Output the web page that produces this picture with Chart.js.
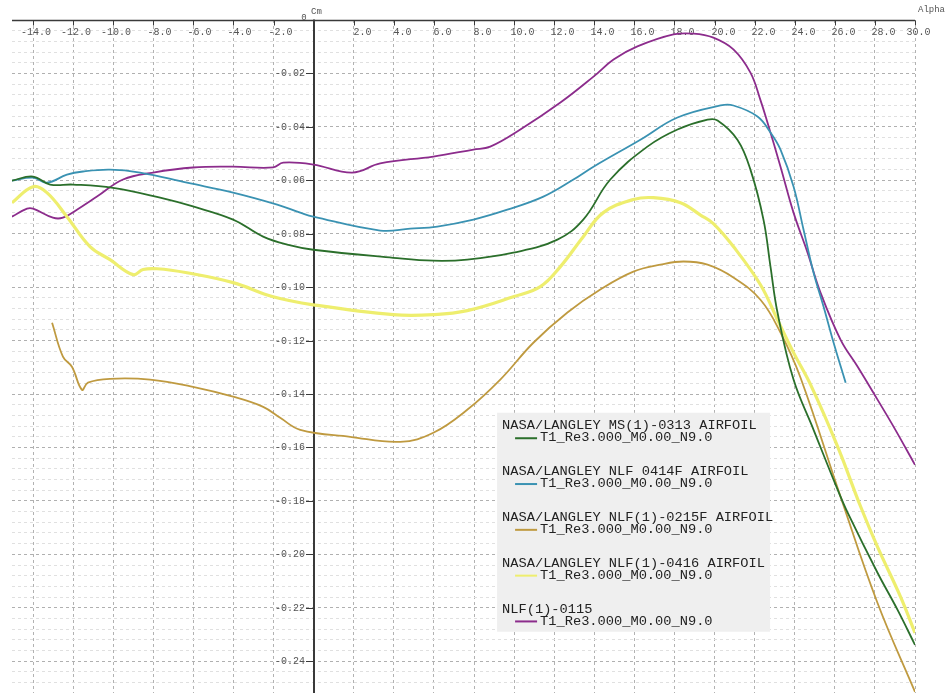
<!DOCTYPE html>
<html><head><meta charset="utf-8">
<script src="https://cdn.jsdelivr.net/npm/chart.js@4.4.0/dist/chart.umd.min.js"></script>
<style>html,body{margin:0;padding:0;background:#fff;overflow:hidden}#wrap{width:947px;height:693px}</style>
</head><body><div id="wrap"><canvas id="c" width="947" height="693"></canvas></div>
<script>
// ---- tick labels / axes ----
const xTickValues = [-14,-12,-10,-8,-6,-4,-2,0,2,4,6,8,10,12,14,16,18,20,22,24,26,28,30];
const yTickValues = [-0.02,-0.04,-0.06,-0.08,-0.10,-0.12,-0.14,-0.16,-0.18,-0.20,-0.22,-0.24];
const xAxisTitle = 'Alpha';
const yAxisTitle = 'Cm';

// ---- series names ----
const seriesTitles = [
  'NASA/LANGLEY MS(1)-0313 AIRFOIL',
  'NASA/LANGLEY NLF 0414F AIRFOIL',
  'NASA/LANGLEY NLF(1)-0215F AIRFOIL',
  'NASA/LANGLEY NLF(1)-0416 AIRFOIL',
  'NLF(1)-0115'
];
const seriesSubtitle = 'T1_Re3.000_M0.00_N9.0';

// ---- MS(1)-0313 (green) ----
const ms0313Alpha = [-15.05,-14.0,-13.15,-12.01,-10.01,-7.66,-6.02,-4.02,-2.52,-1.32,-0.02,3.97,5.97,7.66,9.96,12.16,13.45,14.8,16.65,18.15,19.65,20.15,21.14,21.79,22.44,22.79,23.14,23.94,24.94,26.14,26.64,28.13,29.13,30.0];
const ms0313Cm    = [-0.0601,-0.0586,-0.0616,-0.0616,-0.0628,-0.0665,-0.0698,-0.0747,-0.0811,-0.0841,-0.0860,-0.0890,-0.0901,-0.0897,-0.0871,-0.0822,-0.0747,-0.0597,-0.0474,-0.0410,-0.0373,-0.0376,-0.0448,-0.0560,-0.0747,-0.0923,-0.1095,-0.1346,-0.1534,-0.1758,-0.1844,-0.2069,-0.2208,-0.2339];

// ---- NLF 0414F (blue) ----
const nlf0414Alpha = [-15.05,-14.0,-13.31,-12.31,-11.51,-10.16,-8.66,-6.32,-4.02,-1.82,-0.67,-0.02,3.32,4.82,6.17,7.97,9.66,11.46,12.96,13.96,16.3,18.15,20.3,20.94,22.14,22.79,23.29,23.94,24.44,24.94,25.44,25.94,26.54];
const nlf0414Cm    = [-0.0601,-0.0590,-0.0609,-0.0579,-0.0567,-0.0560,-0.0571,-0.0609,-0.0646,-0.0691,-0.0721,-0.0736,-0.0788,-0.0781,-0.0773,-0.0747,-0.0710,-0.0661,-0.0597,-0.0549,-0.0448,-0.0365,-0.0320,-0.0320,-0.0361,-0.0421,-0.0485,-0.0623,-0.0785,-0.0946,-0.1073,-0.1208,-0.1358];

// ---- NLF(1)-0215F (brown) ----
const nlf0215Alpha = [-13.05,-12.51,-12.06,-11.56,-11.26,-10.16,-8.16,-6.02,-4.02,-2.52,-1.67,-0.67,1.82,4.32,5.97,7.66,9.31,10.96,12.66,14.3,15.95,17.3,18.45,19.65,20.94,22.29,23.29,24.29,26.29,28.13,30.0];
const nlf0215Cm    = [-0.1133,-0.1260,-0.1298,-0.1384,-0.1357,-0.1343,-0.1346,-0.1373,-0.1410,-0.1448,-0.1489,-0.1534,-0.1560,-0.1579,-0.1545,-0.1459,-0.1346,-0.1208,-0.1095,-0.1009,-0.0942,-0.0916,-0.0904,-0.0916,-0.0964,-0.1047,-0.1170,-0.1339,-0.1785,-0.2182,-0.2515];

// ---- NLF(1)-0416 (yellow) ----
const nlf0416Alpha = [-15.05,-14.0,-13.31,-12.31,-11.16,-10.16,-9.01,-8.51,-7.81,-6.32,-4.02,-2.02,-0.02,3.97,5.97,7.66,9.96,11.31,12.31,13.45,14.45,15.95,16.95,18.3,19.3,19.94,20.94,22.29,23.14,23.94,24.79,26.14,27.29,28.13,29.28,30.0];
const nlf0416Cm    = [-0.0684,-0.0624,-0.0646,-0.0736,-0.0848,-0.0897,-0.0953,-0.0934,-0.0931,-0.0946,-0.0983,-0.1036,-0.1066,-0.1103,-0.1103,-0.1088,-0.1036,-0.0998,-0.0923,-0.0811,-0.0721,-0.0672,-0.0665,-0.0684,-0.0730,-0.0762,-0.0848,-0.0991,-0.1122,-0.1245,-0.1365,-0.1597,-0.1822,-0.1972,-0.2159,-0.2294];

// ---- NLF(1)-0115 (purple) ----
const nlf0115Alpha = [-15.05,-14.3,-14.0,-13.01,-12.51,-11.81,-10.81,-9.51,-8.01,-6.02,-4.02,-2.02,-1.52,-0.02,1.92,3.32,5.97,7.97,8.81,10.31,12.31,13.96,14.96,16.15,17.95,18.95,19.94,20.94,21.79,22.29,22.64,23.29,23.94,24.64,25.29,26.29,27.14,28.13,28.93,30.0];
const nlf0115Cm    = [-0.0736,-0.0706,-0.0706,-0.0740,-0.0740,-0.0710,-0.0661,-0.0597,-0.0571,-0.0552,-0.0549,-0.0552,-0.0534,-0.0541,-0.0571,-0.0537,-0.0511,-0.0485,-0.0474,-0.0410,-0.0309,-0.0212,-0.0148,-0.0099,-0.0054,-0.0051,-0.0066,-0.0110,-0.0197,-0.0300,-0.0384,-0.0549,-0.0721,-0.0871,-0.1021,-0.1197,-0.1298,-0.1421,-0.1522,-0.1665];

const seriesColors = ['#2b6f2b','#3a92b2','#bf9a40','#eeee6e','#8c2c8c'];
const seriesWidths = [1.8,1.8,1.8,3.2,1.8];
const seriesAlpha = [ms0313Alpha,nlf0414Alpha,nlf0215Alpha,nlf0416Alpha,nlf0115Alpha];
const seriesCm = [ms0313Cm,nlf0414Cm,nlf0215Cm,nlf0416Cm,nlf0115Cm];

const datasets = seriesAlpha.map((al,k)=>({
  label: seriesTitles[k],
  data: al.map((a,i)=>({x:a,y:seriesCm[k][i]})),
  borderColor: seriesColors[k],
  borderWidth: seriesWidths[k],
  pointRadius: 0,
  fill: false,
  tension: 0.4
}));

function isMajor(v){ const r=v/0.02; return Math.abs(r-Math.round(r))<1e-6; }

const MONO = '"Liberation Mono", "DejaVu Sans Mono", monospace';

const axesPlugin = {
  id:'axesPlugin',
  beforeDatasetsDraw(chart){
    const {ctx, scales:{x,y}} = chart;
    const x0 = Math.round(x.getPixelForValue(0));
    const y0 = Math.round(y.getPixelForValue(0))+0.5;
    ctx.save();
    ctx.strokeStyle='#3a3a3a';
    ctx.lineWidth=1.5;
    ctx.beginPath(); ctx.moveTo(x.left,y0); ctx.lineTo(x.right,y0); ctx.stroke();
    ctx.lineWidth=2;
    ctx.beginPath(); ctx.moveTo(x0,y0-1); ctx.lineTo(x0,y.bottom); ctx.stroke();
    ctx.lineWidth=1;
    ctx.fillStyle='#555';
    ctx.font='10px '+MONO;
    ctx.textBaseline='middle';
    xTickValues.forEach(v=>{
      const px=Math.round(x.getPixelForValue(v))+0.5;
      ctx.beginPath(); ctx.moveTo(px,y0); ctx.lineTo(px,y0+5); ctx.stroke();
      if(v===0) return;
      ctx.textAlign='center';
      const off = v<0 ? (v<=-10?2.5:6) : (v===30?3:8);
      ctx.fillText(v.toFixed(1), px+off, y0+11.5);
    });
    yTickValues.forEach(v=>{
      const py=Math.round(y.getPixelForValue(v))+0.5;
      ctx.beginPath(); ctx.moveTo(x0-8,py); ctx.lineTo(x0,py); ctx.stroke();
      ctx.textAlign='right';
      ctx.fillText(v.toFixed(2), x0-9, py);
    });
    ctx.font='9px '+MONO;
    ctx.textAlign='center';
    ctx.fillText('0', x0-10, y0-3);
    ctx.textAlign='left';
    ctx.fillText(yAxisTitle, x0-3, y0-9);
    ctx.fillText(xAxisTitle, x.right+3, y0-11);
    ctx.restore();
  },
  afterDatasetsDraw(chart){
    const {ctx, scales:{x,y}} = chart;
    const left = x.getPixelForValue(9.15), top = y.getPixelForValue(-0.147);
    const w = 273, h = 219;
    ctx.save();
    ctx.fillStyle='#efefef';
    ctx.fillRect(left, top, w, h);
    ctx.font='13.7px '+MONO;
    ctx.textBaseline='middle';
    ctx.textAlign='left';
    seriesTitles.forEach((t,k)=>{
      const ty = top + 13 + k*45.8;
      ctx.fillStyle='#222';
      ctx.fillText(t, left+5, ty);
      ctx.fillText(seriesSubtitle, left+43, ty+12);
      ctx.strokeStyle=seriesColors[k];
      ctx.lineWidth=2;
      ctx.beginPath(); ctx.moveTo(left+18, ty+12.5); ctx.lineTo(left+40, ty+12.5); ctx.stroke();
    });
    ctx.restore();
  }
};

const yGridValues = [];
for(let i=0;i<=63;i++) yGridValues.push(-i*0.004);

new Chart(document.getElementById('c'), {
  type:'line',
  data:{datasets},
  options:{
    responsive:false, animation:false, devicePixelRatio:1,
    layout:{padding:{left:12,right:32,top:20,bottom:0}},
    plugins:{legend:{display:false}, tooltip:{enabled:false}},
    scales:{
      x:{type:'linear', min:-15.05, max:30,
        afterBuildTicks:s=>{ s.ticks = xTickValues.map(v=>({value:v})); },
        ticks:{display:false},
        grid:{drawTicks:false, color:'#b2b2b2', lineWidth:1},
        border:{display:false, dash:[3,3]}
      },
      y:{type:'linear', min:-0.2519, max:0,
        afterBuildTicks:s=>{ s.ticks = yGridValues.map(v=>({value:v})); },
        ticks:{display:false},
        grid:{drawTicks:false, lineWidth:1, color:c=> (c.tick && isMajor(c.tick.value)) ? '#b0b0b0' : '#e0e0e0'},
        border:{display:false, dash:[3,3]}
      }
    }
  },
  plugins:[axesPlugin]
});
</script></body></html>
